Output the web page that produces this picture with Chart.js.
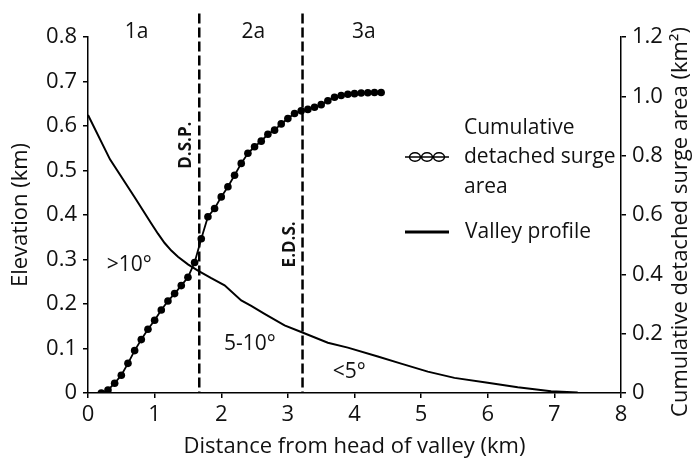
<!DOCTYPE html>
<html>
<head>
<meta charset="utf-8">
<script src="https://cdn.jsdelivr.net/npm/chart.js@4"></script>
<style>
  html, body { margin: 0; padding: 0; background: #fff; }
  #wrap { width: 695px; height: 460px; }
</style>
</head>
<body>
<div id="wrap"><canvas id="c" width="695" height="460"></canvas></div>
<script>
// Valley long profile (distance km, elevation km)
const valleyDist = [0, 0.33, 0.7, 0.95, 1.05, 1.15, 1.25, 1.35, 1.5, 1.65, 1.85, 2.05, 2.3, 2.45, 2.65, 2.95, 3.2, 3.6, 3.9, 4.35, 4.7, 5.1, 5.5, 6.0, 6.45, 6.95, 7.35];
const valleyElev = [0.625, 0.525, 0.44, 0.381, 0.358, 0.337, 0.32, 0.306, 0.289, 0.275, 0.258, 0.242, 0.208, 0.196, 0.178, 0.152, 0.137, 0.113, 0.102, 0.082, 0.066, 0.048, 0.034, 0.023, 0.013, 0.004, 0.001];

// Cumulative detached surge area (distance km, area km²)
const areaDist = [0.2, 0.3, 0.4, 0.5, 0.6, 0.7, 0.8, 0.9, 1.0, 1.1, 1.2, 1.3, 1.4, 1.5, 1.6, 1.7, 1.8, 1.9, 2.0, 2.1, 2.2, 2.3, 2.4, 2.5, 2.6, 2.7, 2.8, 2.9, 3.0, 3.1, 3.2, 3.3, 3.4, 3.5, 3.6, 3.7, 3.8, 3.9, 4.0, 4.1, 4.2, 4.3, 4.4];
const areaKm2 = [0, 0.01, 0.033, 0.06, 0.10, 0.143, 0.18, 0.215, 0.245, 0.28, 0.31, 0.335, 0.362, 0.39, 0.44, 0.52, 0.594, 0.622, 0.661, 0.695, 0.734, 0.774, 0.808, 0.83, 0.849, 0.872, 0.886, 0.907, 0.925, 0.942, 0.951, 0.956, 0.963, 0.972, 0.985, 0.997, 1.003, 1.007, 1.009, 1.011, 1.012, 1.013, 1.013];

// Zone boundaries (km) and labels
const boundaryDist = [1.67, 3.22];
const boundaryNames = ['D.S.P.', 'E.D.S.'];
const zoneNames = ['1a', '2a', '3a'];
const zoneDist = [0.73, 2.48, 4.14];
const slopeNames = ['>10°', '5-10°', '<5°'];
const slopeDist = [0.62, 2.43, 3.92];
const slopeElev = [0.287, 0.109, 0.047];

const FONT = '"Open Sans", "Noto Sans", sans-serif';
const INK = '#111';
const AXIS_SIZE = 22;
const TEXT_SIZE = 21;

const fmt = v => (v === 0 ? '0' : v.toFixed(1));

const annotations = {
  id: 'annotations',
  beforeDatasetsDraw(chart) {
    const { ctx, scales: { x, y }, chartArea } = chart;
    ctx.save();
    ctx.strokeStyle = '#000';
    ctx.lineWidth = 2.5;
    ctx.setLineDash([10, 4]);
    boundaryDist.forEach(d => {
      const px = x.getPixelForValue(d);
      ctx.beginPath();
      ctx.moveTo(px, y.getPixelForValue(0.853));
      ctx.lineTo(px, chartArea.bottom);
      ctx.stroke();
    });
    ctx.restore();
  },
  afterDraw(chart) {
    const { ctx, scales: { x, y } } = chart;
    ctx.save();
    ctx.fillStyle = INK;
    ctx.textBaseline = 'middle';
    ctx.textAlign = 'center';
    ctx.font = TEXT_SIZE + 'px ' + FONT;
    zoneNames.forEach((t, i) => ctx.fillText(t, x.getPixelForValue(zoneDist[i]), y.getPixelForValue(0.812)));
    slopeNames.forEach((t, i) => ctx.fillText(t, x.getPixelForValue(slopeDist[i]), y.getPixelForValue(slopeElev[i])));

    // vertical boundary labels
    ctx.font = 'bold 17px ' + FONT;
    const boundaryLabelPos = [[1.48, 0.557], [3.03, 0.334]];
    boundaryNames.forEach((t, i) => {
      ctx.save();
      ctx.translate(x.getPixelForValue(boundaryLabelPos[i][0]), y.getPixelForValue(boundaryLabelPos[i][1]));
      ctx.rotate(-Math.PI / 2);
      ctx.fillText(t, 0, 0);
      ctx.restore();
    });

    // right axis title, reading bottom to top
    ctx.font = AXIS_SIZE + 'px ' + FONT;
    ctx.save();
    ctx.translate(681, 222);
    ctx.rotate(-Math.PI / 2);
    ctx.fillText('Cumulative detached surge area (km²)', 0, 0);
    ctx.restore();

    // legend
    ctx.font = TEXT_SIZE + 'px ' + FONT;
    ctx.textAlign = 'left';
    ctx.fillText('Cumulative', 464, 128);
    ctx.fillText('detached surge', 464, 157);
    ctx.fillText('area', 464, 187);
    ctx.fillText('Valley profile', 465, 232);

    ctx.strokeStyle = '#000';
    ctx.lineWidth = 1.4;
    [415, 427, 439].forEach(cx => {
      ctx.beginPath();
      ctx.ellipse(cx, 157, 5.5, 4.3, 0, 0, Math.PI * 2);
      ctx.fillStyle = '#fff';
      ctx.fill();
      ctx.stroke();
    });
    ctx.beginPath();
    ctx.moveTo(405, 157);
    ctx.lineTo(449, 157);
    ctx.stroke();
    ctx.lineWidth = 2.8;
    ctx.beginPath();
    ctx.moveTo(405, 232);
    ctx.lineTo(449, 232);
    ctx.stroke();
    ctx.restore();
  }
};

const axisCommon = {
  grid: { display: true, drawOnChartArea: false, drawTicks: true, tickLength: 5, color: '#000', lineWidth: 1.5 },
  border: { display: true, color: '#000', width: 1.5 },
  ticks: { color: INK, font: { family: FONT, size: AXIS_SIZE } }
};

new Chart(document.getElementById('c'), {
  type: 'line',
  data: {
    datasets: [
      {
        label: 'Cumulative detached surge area',
        data: areaDist.map((d, i) => ({ x: d, y: areaKm2[i] })),
        yAxisID: 'y2',
        borderColor: '#000',
        borderWidth: 1.8,
        backgroundColor: '#000',
        pointRadius: 3.8,
        pointBorderWidth: 0,
        pointBackgroundColor: '#000',
        tension: 0
      },
      {
        label: 'Valley profile',
        data: valleyDist.map((d, i) => ({ x: d, y: valleyElev[i] })),
        yAxisID: 'y',
        borderColor: '#000',
        borderWidth: 2,
        pointRadius: 0,
        tension: 0
      }
    ]
  },
  options: {
    responsive: false,
    animation: false,
    layout: { padding: { top: 37, left: 0, right: 0, bottom: 0 } },
    plugins: { legend: { display: false }, tooltip: { enabled: false } },
    scales: {
      x: {
        ...axisCommon,
        type: 'linear',
        min: 0, max: 8,
        ticks: { ...axisCommon.ticks, stepSize: 1, padding: 4, maxRotation: 0 },
        title: { display: true, text: 'Distance from head of valley (km)', color: INK, font: { family: FONT, size: AXIS_SIZE }, padding: { top: 0, bottom: 0 } },
        afterFit: s => { s.height = 67; }
      },
      y: {
        ...axisCommon,
        position: 'left',
        min: 0, max: 0.8,
        ticks: { ...axisCommon.ticks, stepSize: 0.1, padding: 6, callback: v => fmt(v) },
        title: { display: true, text: 'Elevation (km)', color: INK, font: { family: FONT, size: AXIS_SIZE }, padding: { top: 8, bottom: 0 } },
        afterFit: s => { s.width = 88; }
      },
      y2: {
        ...axisCommon,
        position: 'right',
        min: 0, max: 1.2,
        ticks: { ...axisCommon.ticks, stepSize: 0.2, padding: 6, callback: v => fmt(v) },
        afterFit: s => { s.width = 74; }
      }
    }
  },
  plugins: [annotations]
});
</script>
</body>
</html>
